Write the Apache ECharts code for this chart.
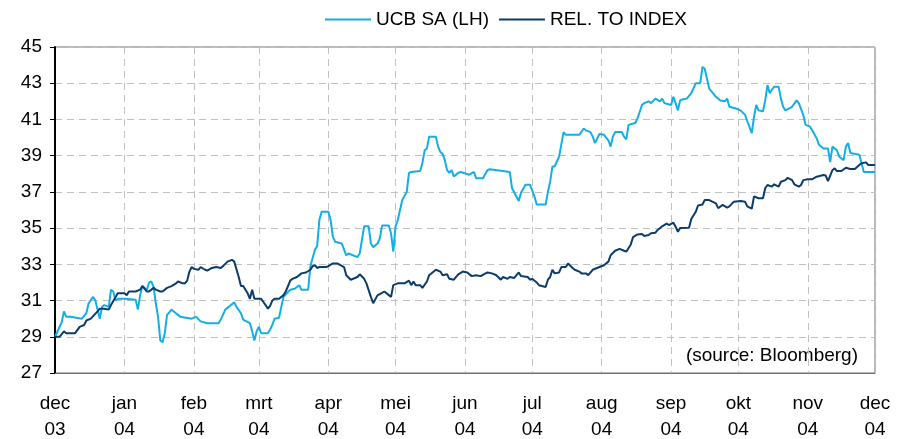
<!DOCTYPE html>
<html>
<head>
<meta charset="utf-8">
<script src="https://cdn.jsdelivr.net/npm/echarts@6/dist/echarts.min.js"></script>
<style>
html,body{margin:0;padding:0;background:#fff;}
#chart{width:900px;height:439px;}
</style>
</head>
<body>
<div id="chart"></div>
<script>
// Month tick labels (Dutch)
const monthLabels = ['jan','feb','mrt','apr','mei','jun','jul','aug','sep','okt','nov','dec'];
const seriesNames = ['UCB SA (LH)', 'REL. TO INDEX'];

// UCB SA share price
const ucbDates = [
'2003-12-01','2003-12-04','2003-12-05','2003-12-06','2003-12-08','2003-12-13','2003-12-15','2003-12-16','2003-12-18','2003-12-19','2003-12-20','2003-12-21','2003-12-22','2003-12-23','2003-12-25','2003-12-26','2003-12-27','2003-12-28','2003-12-29',
'2004-01-01','2004-01-06','2004-01-07','2004-01-08','2004-01-09','2004-01-11','2004-01-12','2004-01-13','2004-01-14','2004-01-15','2004-01-16','2004-01-17','2004-01-18','2004-01-19','2004-01-20','2004-01-22','2004-01-23','2004-01-26','2004-01-31',
'2004-02-02','2004-02-04','2004-02-07','2004-02-12','2004-02-13','2004-02-15','2004-02-17','2004-02-19','2004-02-20','2004-02-22','2004-02-23','2004-02-26','2004-02-27','2004-02-28','2004-02-29',
'2004-03-01','2004-03-02','2004-03-05','2004-03-06','2004-03-07','2004-03-08','2004-03-10','2004-03-11','2004-03-12','2004-03-15','2004-03-17','2004-03-19','2004-03-20','2004-03-23','2004-03-24','2004-03-26','2004-03-27','2004-03-28','2004-03-29',
'2004-04-01','2004-04-02','2004-04-03','2004-04-04','2004-04-07','2004-04-09','2004-04-10','2004-04-14','2004-04-15','2004-04-16','2004-04-17','2004-04-19','2004-04-20','2004-04-21','2004-04-23','2004-04-24','2004-04-25','2004-04-28','2004-04-29','2004-04-30',
'2004-05-01','2004-05-02','2004-05-03','2004-05-04','2004-05-06','2004-05-07','2004-05-08','2004-05-12','2004-05-13','2004-05-14','2004-05-15','2004-05-16','2004-05-19','2004-05-20','2004-05-21','2004-05-22','2004-05-23','2004-05-24','2004-05-25','2004-05-26','2004-05-27','2004-05-29','2004-05-30',
'2004-06-03','2004-06-05','2004-06-06','2004-06-09','2004-06-11','2004-06-12','2004-06-21','2004-06-22','2004-06-25','2004-06-26','2004-06-28','2004-06-30',
'2004-07-02','2004-07-03','2004-07-07','2004-07-08','2004-07-09','2004-07-10','2004-07-11','2004-07-13','2004-07-15','2004-07-16','2004-07-22','2004-07-24','2004-07-25','2004-07-27','2004-07-28','2004-07-29','2004-07-31',
'2004-08-02','2004-08-04','2004-08-05','2004-08-06','2004-08-07','2004-08-10','2004-08-11','2004-08-12','2004-08-13','2004-08-16','2004-08-17','2004-08-19','2004-08-20','2004-08-22','2004-08-23','2004-08-25','2004-08-27','2004-08-28','2004-08-29',
'2004-09-01','2004-09-02','2004-09-03','2004-09-04','2004-09-05','2004-09-06','2004-09-08','2004-09-10','2004-09-12','2004-09-14','2004-09-15','2004-09-16','2004-09-17','2004-09-18','2004-09-19','2004-09-21','2004-09-23','2004-09-25','2004-09-26','2004-09-27','2004-09-30',
'2004-10-02','2004-10-04','2004-10-05','2004-10-07','2004-10-08','2004-10-09','2004-10-10','2004-10-12','2004-10-13','2004-10-14','2004-10-15','2004-10-16','2004-10-17','2004-10-19','2004-10-20','2004-10-21','2004-10-22','2004-10-25','2004-10-27','2004-10-28','2004-10-30','2004-10-31',
'2004-11-02','2004-11-03','2004-11-05','2004-11-06','2004-11-08','2004-11-10','2004-11-11','2004-11-12','2004-11-14','2004-11-15','2004-11-17','2004-11-18','2004-11-19','2004-11-20','2004-11-24','2004-11-25','2004-11-26','2004-12-01'
];
const ucbValues = [
29.0,29.8,30.4,30.1,30.1,30.0,30.3,30.85,31.2,31.0,30.5,30.0,30.65,30.75,30.65,31.6,31.5,31.0,31.1,
31.1,31.05,30.5,31.3,31.8,31.6,32.0,32.05,31.75,30.85,30.1,28.8,28.7,29.2,30.2,30.5,30.4,30.1,30.0,
30.1,29.85,29.75,29.75,29.95,30.5,30.7,30.9,30.65,30.3,29.95,29.75,29.3,28.8,29.3,
29.55,29.2,29.2,29.4,29.65,30.0,30.05,30.65,31.2,31.6,31.65,31.85,31.6,31.6,32.9,33.8,34.0,35.45,35.9,
35.9,35.45,34.55,34.25,34.15,33.5,33.6,33.4,33.6,34.35,35.1,35.1,34.15,33.95,34.15,34.45,35.15,35.15,34.7,33.7,
35.1,35.45,36.0,36.55,37.0,38.05,38.1,38.15,38.6,39.3,39.4,40.05,40.05,39.5,39.2,39.1,38.75,38.2,38.05,38.2,37.85,38.05,38.1,
37.95,38.1,37.75,37.75,38.2,38.25,38.1,37.2,36.5,36.95,37.4,37.4,
36.75,36.3,36.3,37.0,37.55,38.4,38.4,38.95,40.3,40.15,40.15,40.5,40.4,40.3,40.05,39.7,40.2,
40.15,39.85,39.5,40.05,40.3,40.3,40.05,39.9,40.7,40.8,41.05,41.8,41.9,42.0,41.9,42.15,42.0,42.15,41.9,
41.8,42.25,41.9,41.5,42.05,42.1,42.15,42.45,43.0,43.0,43.9,43.8,43.25,42.7,42.55,42.25,42.05,42.0,42.15,41.7,41.6,
41.5,41.25,40.9,40.25,41.15,41.8,41.5,41.45,42.05,42.9,42.45,42.65,42.8,42.8,42.15,41.7,41.5,41.7,42.05,41.9,41.25,40.7,
40.6,40.4,39.95,39.6,39.4,39.4,38.65,39.5,39.3,38.95,38.75,39.5,39.7,39.15,39.05,38.6,38.1,38.1
];

// Relative to index (same scale)
const relDates = [
'2003-12-01','2003-12-03','2003-12-05','2003-12-06','2003-12-10','2003-12-12','2003-12-14','2003-12-15','2003-12-17','2003-12-20','2003-12-21','2003-12-23','2003-12-25','2003-12-26','2003-12-29',
'2004-01-01','2004-01-02','2004-01-03','2004-01-06','2004-01-08','2004-01-09','2004-01-11','2004-01-12','2004-01-14','2004-01-15','2004-01-17','2004-01-18','2004-01-20','2004-01-22','2004-01-24','2004-01-25','2004-01-27','2004-01-28','2004-01-29','2004-01-30','2004-01-31',
'2004-02-01','2004-02-03','2004-02-04','2004-02-06','2004-02-07','2004-02-09','2004-02-11','2004-02-13','2004-02-14','2004-02-16','2004-02-18','2004-02-19','2004-02-21','2004-02-22','2004-02-23','2004-02-24','2004-02-25','2004-02-26','2004-02-27','2004-02-28',
'2004-03-02','2004-03-04','2004-03-05','2004-03-06','2004-03-07','2004-03-08','2004-03-10','2004-03-12','2004-03-13','2004-03-15','2004-03-16','2004-03-18','2004-03-20','2004-03-22','2004-03-24','2004-03-25','2004-03-26','2004-03-27','2004-03-28','2004-03-31',
'2004-04-01','2004-04-03','2004-04-05','2004-04-08','2004-04-09','2004-04-11','2004-04-14','2004-04-15','2004-04-17','2004-04-18','2004-04-20','2004-04-21','2004-04-23','2004-04-24','2004-04-26','2004-04-28','2004-04-29','2004-04-30',
'2004-05-02','2004-05-05','2004-05-07','2004-05-08','2004-05-09','2004-05-10','2004-05-12','2004-05-13','2004-05-15','2004-05-16','2004-05-19','2004-05-21','2004-05-22','2004-05-24','2004-05-25','2004-05-27','2004-05-29','2004-05-31',
'2004-06-02','2004-06-04','2004-06-06','2004-06-08','2004-06-11','2004-06-13','2004-06-15','2004-06-17','2004-06-18','2004-06-20','2004-06-21','2004-06-23','2004-06-25','2004-06-26','2004-06-29','2004-06-30',
'2004-07-01','2004-07-03','2004-07-04','2004-07-07','2004-07-08','2004-07-09','2004-07-10','2004-07-11','2004-07-13','2004-07-14','2004-07-16','2004-07-17','2004-07-19','2004-07-20','2004-07-22','2004-07-23','2004-07-25','2004-07-26','2004-07-28','2004-07-31',
'2004-08-02','2004-08-04','2004-08-05','2004-08-07','2004-08-09','2004-08-11','2004-08-12','2004-08-14','2004-08-15','2004-08-17','2004-08-19','2004-08-20','2004-08-22','2004-08-23','2004-08-25','2004-08-26','2004-08-28','2004-08-30','2004-08-31',
'2004-09-02','2004-09-03','2004-09-04','2004-09-05','2004-09-09','2004-09-10','2004-09-12','2004-09-13','2004-09-15','2004-09-16','2004-09-18','2004-09-21','2004-09-22','2004-09-24','2004-09-26','2004-09-27','2004-09-29',
'2004-10-02','2004-10-04','2004-10-05','2004-10-07','2004-10-08','2004-10-10','2004-10-12','2004-10-13','2004-10-14','2004-10-16','2004-10-17','2004-10-19','2004-10-20','2004-10-22','2004-10-23','2004-10-25','2004-10-26','2004-10-28','2004-10-29','2004-10-30',
'2004-11-01','2004-11-03','2004-11-05','2004-11-08','2004-11-09','2004-11-10','2004-11-12','2004-11-13','2004-11-14','2004-11-16','2004-11-18','2004-11-20','2004-11-22','2004-11-24','2004-11-25','2004-11-27','2004-11-28','2004-12-01'
];
const relValues = [
29.0,29.0,29.3,29.2,29.2,29.55,29.65,29.9,30.0,30.4,30.55,30.55,30.5,30.75,31.4,
31.4,31.3,31.5,31.5,31.6,31.8,31.5,31.5,31.7,31.6,31.5,31.5,31.7,31.8,31.95,32.05,31.95,31.95,32.1,32.6,32.85,
32.75,32.7,32.85,32.7,32.65,32.8,32.85,32.8,32.9,33.15,33.25,33.15,32.3,31.8,31.8,31.6,31.4,31.1,31.6,31.1,
31.1,30.75,30.55,30.7,31.0,31.1,31.1,31.3,31.5,32.1,32.2,32.3,32.5,32.55,32.7,32.9,32.95,32.8,32.85,32.85,
32.9,33.05,33.05,32.85,32.4,32.15,32.3,32.45,32.2,31.95,31.2,30.85,31.3,31.35,31.5,31.3,31.2,31.85,
31.95,31.95,32.1,31.85,32.05,31.85,31.85,31.7,32.05,32.4,32.7,32.6,32.4,32.45,32.2,32.15,32.45,32.6,
32.55,32.35,32.4,32.35,32.55,32.5,32.4,32.15,32.3,32.2,32.3,32.25,32.55,32.35,32.3,32.15,
32.2,32.0,31.85,31.75,32.15,32.3,32.7,32.5,32.55,32.85,32.85,33.05,32.8,32.7,32.6,32.5,32.5,32.4,32.7,32.85,
32.95,33.15,33.5,33.75,33.85,33.75,33.7,34.1,34.5,34.65,34.67,34.56,34.62,34.72,34.75,34.9,35.1,35.25,35.17,
35.3,35.08,34.8,35.0,35.02,35.5,35.9,36.25,36.3,36.55,36.55,36.37,36.1,36.28,36.13,36.2,36.46,
36.5,36.46,36.2,36.07,36.75,36.65,36.65,37.2,37.38,37.29,37.42,37.29,37.56,37.65,37.78,37.65,37.42,37.29,37.38,37.65,
37.7,37.7,37.84,37.93,37.9,37.6,38.2,38.3,38.15,38.15,38.33,38.26,38.26,38.48,38.58,38.63,38.48,38.48
];

const axisStart = '2003-12-01';
const axisEnd = '2004-12-01';
const sourceNote = '(source: Bloomberg)';

const ucbData = ucbDates.map((d, i) => [d, ucbValues[i]]);
const relData = relDates.map((d, i) => [d, relValues[i]]);

const FONT = 'Liberation Sans, Arial, sans-serif';
const FS = 19;
const chart = echarts.init(document.getElementById('chart'), null, {renderer: 'canvas'});
const DAY = 86400000;

chart.setOption({
  animation: false,
  backgroundColor: '#ffffff',
  textStyle: {fontFamily: FONT},
  legend: {
    top: 5,
    left: 320,
    itemWidth: 46,
    itemHeight: 2,
    itemGap: 10,
    icon: 'rect',
    textStyle: {fontFamily: FONT, fontSize: FS, color: '#000'},
    data: seriesNames
  },
  grid: {
    left: 55, right: 25, top: 47, bottom: 66,
    show: true, borderColor: '#707070', borderWidth: 1,
    containLabel: false,
    outerBoundsMode: 'none'
  },
  xAxis: {
    type: 'time',
    min: axisStart,
    max: axisEnd,
    splitNumber: 12,
    minInterval: 28 * DAY,
    maxInterval: 31 * DAY,
    axisLine: {show: true, lineStyle: {color: '#707070', width: 1}},
    axisTick: {show: false},
    splitLine: {show: true, lineStyle: {color: '#c0c0c0', type: [7, 5], width: 1}},
    axisLabel: {
      fontFamily: FONT, fontSize: FS, color: '#000', lineHeight: 26, margin: 18,
      showMinLabel: true, showMaxLabel: true, hideOverlap: false,
      formatter: function (val) {
        const d = new Date(val);
        return monthLabels[d.getMonth()] + '\n' + String(d.getFullYear()).slice(2);
      }
    }
  },
  yAxis: {
    type: 'value',
    min: 27, max: 45, interval: 2,
    axisLine: {show: true, lineStyle: {color: '#000', width: 2}},
    axisTick: {show: true, length: 5, lineStyle: {color: '#000', width: 1}},
    splitLine: {show: true, lineStyle: {color: '#c0c0c0', type: [7, 5], width: 1}},
    axisLabel: {fontFamily: FONT, fontSize: FS, color: '#000', margin: 13}
  },
  graphic: [{
    type: 'text',
    right: 42,
    top: 346,
    style: {text: sourceNote, font: FS + 'px ' + FONT, fill: '#000'}
  }],
  series: [
    {
      name: seriesNames[0], type: 'line', data: ucbData, showSymbol: false, symbol: 'none',
      lineStyle: {color: '#14aee6', width: 2}, itemStyle: {color: '#14aee6'}
    },
    {
      name: seriesNames[1], type: 'line', data: relData, showSymbol: false, symbol: 'none',
      lineStyle: {color: '#0b3c6c', width: 2}, itemStyle: {color: '#0b3c6c'}
    }
  ]
});
</script>
</body>
</html>
